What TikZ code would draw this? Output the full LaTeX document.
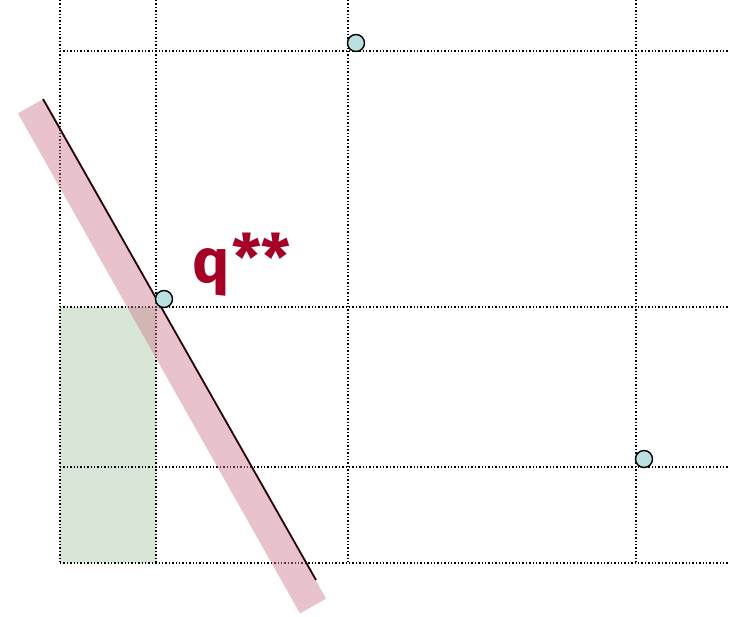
\documentclass[tikz,border=0pt]{standalone}
\usepackage{fontspec}
\newfontfamily\labelfont{Fira Sans}
\definecolor{bandpink}{RGB}{205,122,140}
\definecolor{rectgreen}{RGB}{216,230,216}
\definecolor{dotfill}{RGB}{186,224,226}
\definecolor{lblred}{RGB}{165,0,38}
\definecolor{edgeline}{RGB}{40,0,10}
\tikzset{
  gridline/.style={black, dotted, line width=1.4pt},
  pt/.style={circle, draw=black, fill=dotfill, line width=1.4pt, minimum size=17pt, inner sep=0pt},
  band/.style={bandpink, opacity=0.45, line width=30pt, line cap=butt},
  edgeln/.style={edgeline, line width=1.8pt}
}
\begin{document}
\begin{tikzpicture}[x=1pt,y=-1pt]
\useasboundingbox (0,0) rectangle (730,616);
% shaded rectangle
\fill[rectgreen] (60,307) rectangle (156,563);
% grid
\foreach \x in {60,156,348,636} \draw[gridline] (\x,0) -- (\x,563);
\foreach \y in {51,307,467,563} \draw[gridline] (60,\y) -- (730,\y);
% band and line
\coordinate (b1) at (31,106);
\coordinate (b2) at (313,606);
\draw[band] (b1) -- (b2);
\coordinate (l1) at (43,99);
\coordinate (l2) at (316,580);
\draw[edgeln] (l1) -- (l2);
% points
\node[pt] (p1) at (356,43) {};
\node[pt] (p2) at (164,299) {};
\node[pt] (p3) at (644,459) {};
% label
\node[text=lblred, font=\labelfont\bfseries\fontsize{62}{62}\selectfont, anchor=base west, inner sep=0pt] (lbl) at (192,282) {q\hspace{3pt}\raisebox{0.02em}{\fontsize{64}{64}\selectfont**}};
\end{tikzpicture}
\end{document}
